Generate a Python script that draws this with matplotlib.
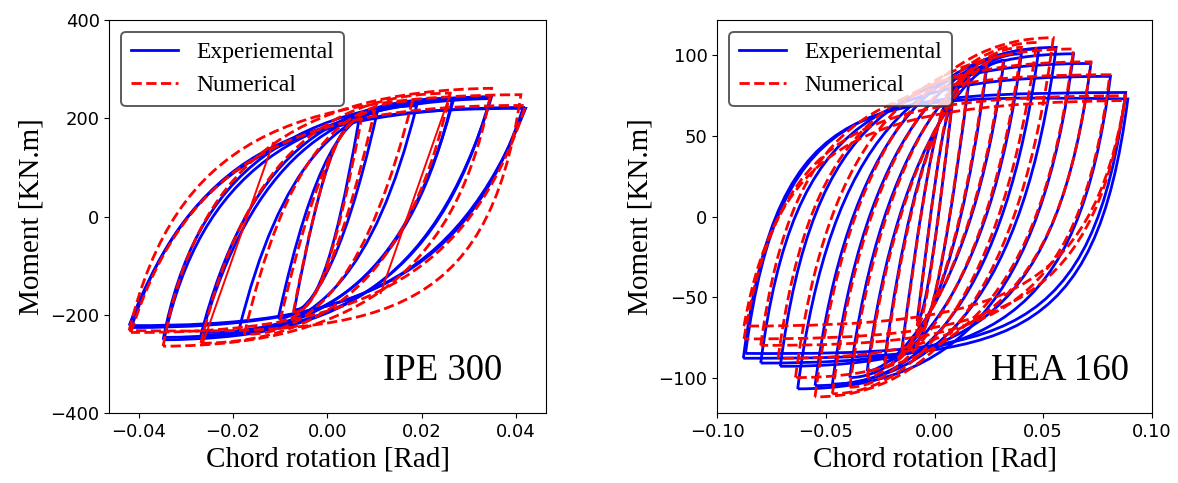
import matplotlib
matplotlib.use("Agg")
import matplotlib.pyplot as plt
from matplotlib.path import Path
from matplotlib.patches import PathPatch
from matplotlib.lines import Line2D

# Each hysteresis loop is read off the figure as 6 points:
# negative peak, 2 bezier controls of the rising branch, positive peak,
# 2 bezier controls of the falling branch (back to the negative peak).
ipe_exp_loops = [
    [(-0.042, -222), (-0.027, 150), (-0.005, 222), (0.042, 220), (0.027, -140), (0.005, -224)],
    [(-0.0415, -226), (-0.030, 120), (-0.006, 220), (0.0415, 222), (0.030, -120), (0.006, -226)],
    [(-0.0348, -251), (-0.028, 90), (-0.008, 238), (0.0348, 244), (0.022, -160), (0.000, -248)],
    [(-0.0345, -246), (-0.027, 80), (-0.007, 232), (0.0345, 240), (0.023, -150), (0.001, -244)],
    [(-0.0268, -241), (-0.017, 120), (0.000, 240), (0.0268, 241), (0.017, -120), (0.000, -240)],
    [(-0.0265, -236), (-0.016, 110), (0.001, 236), (0.0265, 238), (0.018, -110), (0.001, -236)],
    [(-0.0188, -234), (-0.010, 110), (0.003, 228), (0.0189, 225), (0.010, -120), (-0.003, -234)],
    [(-0.0104, -207), (-0.003, 120), (0.004, 212), (0.0105, 210), (0.003, -110), (-0.004, -208)],
    [(-0.0070, -190), (-0.001, 120), (0.003, 196), (0.0067, 197), (0.001, -120), (-0.003, -190)],
]
ipe_num_loops = [
    [(-0.042, -232), (-0.032, 160), (-0.008, 245), (0.041, 248), (0.034, -220), (0.010, -240)],
    [(-0.0416, -236), (-0.030, 120), (-0.006, 228), (0.042, 226), (0.030, -130), (0.006, -238)],
    [(-0.0348, -264), (-0.028, 100), (-0.008, 255), (0.0348, 261), (0.028, -100), (0.008, -262)],
    [(-0.0268, -258), (-0.018, 100), (-0.002, 250), (0.026, 251), (0.018, -100), (0.002, -255)],
    [(-0.0176, -240), (-0.009, 110), (0.002, 235), (0.018, 235), (0.009, -110), (-0.002, -240)],
    [(-0.0100, -212), (-0.002, 120), (0.004, 214), (0.010, 215), (0.002, -120), (-0.004, -212)],
    [(-0.0072, -195), (-0.001, 120), (0.003, 198), (0.0072, 198), (0.001, -120), (-0.003, -195)],
]
# thin straight unloading lines of the numerical model
ipe_num_elastic_x = [[-0.0264, -0.0115], [0.0261, 0.0113]]
ipe_num_elastic_y = [[-258, 150], [251, -156]]

hea_exp_loops = [
    [(-0.088, -88), (-0.072, 80), (-0.030, 75), (0.089, 73), (0.074, -82), (0.034, -88)],
    [(-0.087, -85), (-0.071, 78), (-0.028, 76), (0.088, 77), (0.073, -78), (0.032, -86)],
    [(-0.080, -91), (-0.065, 64), (-0.025, 87), (0.081, 87), (0.066, -68), (0.026, -91)],
    [(-0.071, -93), (-0.056, 62), (-0.016, 95), (0.072, 95), (0.057, -60), (0.017, -93)],
    [(-0.063, -107), (-0.048, 48), (-0.008, 101), (0.064, 101), (0.049, -54), (0.009, -107)],
    [(-0.055, -105), (-0.040, 50), (0.000, 105), (0.056, 105), (0.041, -50), (0.001, -105)],
    [(-0.047, -104), (-0.032, 51), (0.008, 104), (0.048, 104), (0.033, -51), (-0.007, -104)],
    [(-0.039, -100), (-0.024, 55), (0.016, 101), (0.040, 101), (0.025, -54), (-0.015, -100)],
    [(-0.031, -96), (-0.016, 59), (0.022, 97), (0.032, 97), (0.017, -58), (-0.021, -96)],
    [(-0.023, -90), (-0.008, 65), (0.014, 92), (0.024, 92), (0.009, -63), (-0.013, -90)],
    [(-0.015, -82), (0.000, 73), (0.006, 85), (0.016, 85), (0.001, -70), (-0.005, -82)],
    [(-0.008, -65), (-0.002, 0), (0.004, 66), (0.008, 68), (0.002, 0), (-0.004, -64)],
]
hea_num_loops = [
    [(-0.0877, -68), (-0.072, 50), (-0.030, 70), (0.0876, 72), (0.072, -50), (0.030, -68)],
    [(-0.0877, -76), (-0.071, 62), (-0.028, 74), (0.088, 75), (0.072, -62), (0.028, -76)],
    [(-0.080, -80), (-0.065, 68), (-0.025, 88), (0.0807, 88), (0.066, -68), (0.025, -80)],
    [(-0.072, -88), (-0.057, 62), (-0.017, 96), (0.072, 96), (0.057, -62), (0.017, -88)],
    [(-0.064, -100), (-0.049, 55), (-0.009, 104), (0.064, 104), (0.049, -55), (0.009, -100)],
    [(-0.055, -112), (-0.040, 45), (0.000, 111), (0.0547, 111), (0.040, -45), (0.000, -112)],
    [(-0.047, -110), (-0.032, 47), (0.008, 108), (0.047, 108), (0.032, -47), (-0.008, -110)],
    [(-0.039, -106), (-0.024, 50), (0.015, 105), (0.040, 105), (0.025, -50), (-0.015, -106)],
    [(-0.031, -100), (-0.016, 55), (0.021, 100), (0.032, 100), (0.017, -55), (-0.021, -100)],
    [(-0.023, -93), (-0.008, 62), (0.014, 95), (0.024, 95), (0.009, -62), (-0.014, -93)],
    [(-0.015, -84), (0.000, 72), (0.006, 88), (0.016, 88), (0.001, -72), (-0.006, -84)],
    [(-0.008, -68), (-0.002, 0), (0.004, 68), (0.008, 70), (0.002, 0), (-0.004, -68)],
]

BLUE, RED = "#0000ff", "#ff0000"
SERIF = "Liberation Serif"
CODES = [Path.MOVETO] + [Path.CURVE4] * 6


def draw_loops(ax, loops, **kw):
    for lp in loops:
        verts = list(lp) + [lp[0]]
        ax.add_patch(PathPatch(Path(verts, CODES), fill=False, **kw))


def style(ax, name, name_x):
    ax.set_xlabel("Chord rotation [Rad]", fontsize=21, family=SERIF)
    ax.set_ylabel("Moment [KN.m]", fontsize=21, family=SERIF)
    ax.tick_params(labelsize=13)
    ax.text(name_x, 0.084, name, transform=ax.transAxes, ha="right", va="baseline",
            fontsize=26.5, family=SERIF)
    handles = [Line2D([], [], color=BLUE, lw=2), Line2D([], [], color=RED, lw=2, ls="--")]
    leg = ax.legend(handles, ["Experiemental", "Numerical"], loc="upper left",
                    prop={"family": SERIF, "size": 17})
    leg.get_frame().set_edgecolor("0.2")
    leg.get_frame().set_linewidth(1.4)


fig = plt.figure(figsize=(11.78, 4.83), dpi=100)
ax1 = fig.add_axes([0.0928, 0.1449, 0.371, 0.8137])
ax2 = fig.add_axes([0.6089, 0.1449, 0.3688, 0.8137])

draw_loops(ax1, ipe_exp_loops, edgecolor=BLUE, lw=2)
draw_loops(ax1, ipe_num_loops, edgecolor=RED, lw=2, ls="--")
for xs, ys in zip(ipe_num_elastic_x, ipe_num_elastic_y):
    ax1.plot(xs, ys, color=RED, lw=1.4)
ax1.set_xlim(-0.0462, 0.0464)
ax1.set_ylim(-400, 400)
ax1.set_xticks([-0.04, -0.02, 0.0, 0.02, 0.04])
ax1.set_yticks([-400, -200, 0, 200, 400])
style(ax1, "IPE 300", 0.898)

draw_loops(ax2, hea_exp_loops, edgecolor=BLUE, lw=2)
draw_loops(ax2, hea_num_loops, edgecolor=RED, lw=2, ls="--")
ax2.set_xlim(-0.10, 0.10)
ax2.set_ylim(-122, 122)
ax2.set_xticks([-0.10, -0.05, 0.0, 0.05, 0.10])
ax2.set_yticks([-100, -50, 0, 50, 100])
style(ax2, "HEA 160", 0.947)

fig.savefig("out.png", dpi=100)
